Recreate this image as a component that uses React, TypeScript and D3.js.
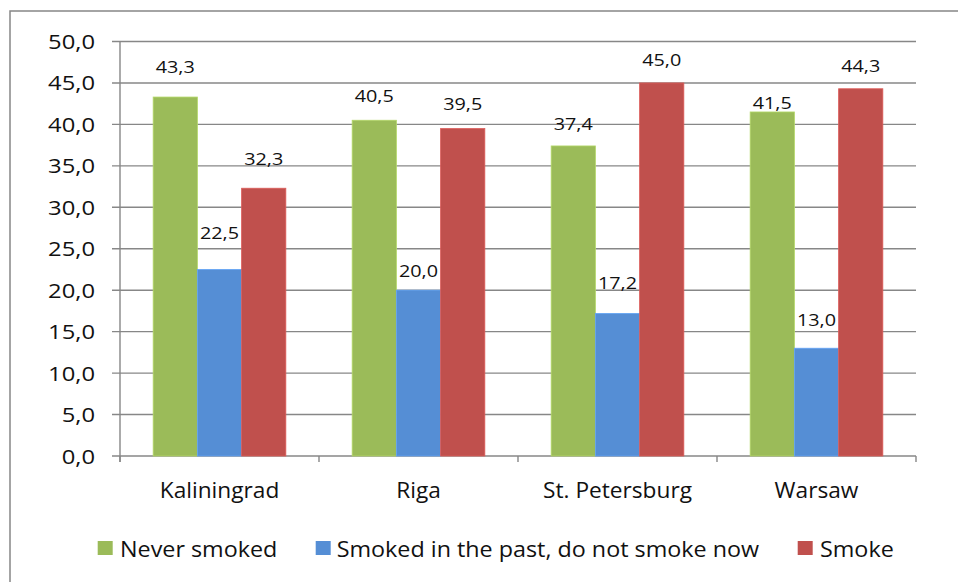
import React from "react";
import * as d3 from "d3";

const categories = ["Kaliningrad", "Riga", "St. Petersburg", "Warsaw"];
const seriesNames = ["Never smoked", "Smoked in the past, do not smoke now", "Smoke"];
const neverSmoked = [43.3, 40.5, 37.4, 41.5];
const smokedInPast = [22.5, 20.0, 17.2, 13.0];
const smoke = [32.3, 39.5, 45.0, 44.3];
const yTicks = [0, 5, 10, 15, 20, 25, 30, 35, 40, 45, 50];
const seriesColors = ["#9BBB59", "#558ED5", "#C0504D"];
// manual label lifts (px above bar top), per series per category, as in the reference
const labelLift = [
  [23.7, 18.5, 16, 3.4],
  [30.5, 13.3, 24, 22.3],
  [23.3, 18.3, 17.3, 16.6],
];

const FONT = "'Open Sans', sans-serif";
const TEXT = "#111";
const GRID = "#878787";

function T({ x, y, size, sx, anchor, children }: any) {
  return (
    <text
      transform={`translate(${x},${y}) scale(${sx},1)`}
      textAnchor={anchor}
      fontFamily={FONT}
      fontSize={size}
      fill={TEXT}
    >
      {children}
    </text>
  );
}

export default function App() {
  const W = 958, H = 582;
  const left = 120, right = 916, top = 41.5, bottom = 456;
  const series = [neverSmoked, smokedInPast, smoke];

  const x0 = d3.scaleBand<string>().domain(categories).range([left, right]).padding(0);
  const x1 = d3
    .scaleBand<number>()
    .domain([0, 1, 2])
    .range([0, x0.bandwidth()])
    .paddingInner(0)
    .paddingOuter(0.75);
  const y = d3.scaleLinear().domain([0, 50]).range([bottom, top]);
  const fmt = (v: number) => v.toFixed(1).replace(".", ",");

  const boundaries = [...categories.map((c) => x0(c) as number), right];

  const legendItems = [
    { sq: 97.7, tx: 120 },
    { sq: 315.7, tx: 336.7 },
    { sq: 797.7, tx: 820 },
  ];

  return (
    <svg width={W} height={H} style={{ position: "absolute", left: 0, top: 0 }}>
      <rect x={0} y={0} width={W} height={H} fill="#fff" />
      <rect x={10} y={11} width={W + 10} height={H + 10} fill="none" stroke={GRID} strokeWidth={1.5} />
      {/* gridlines */}
      {yTicks.map((t) => (
        <line key={"g" + t} x1={left - 8} x2={right} y1={y(t)} y2={y(t)} stroke={GRID} strokeWidth={1.4} />
      ))}
      {/* y axis */}
      <line x1={left} x2={left} y1={top} y2={bottom + 6} stroke={GRID} strokeWidth={1.4} />
      {/* x ticks */}
      {boundaries.map((b, i) => (
        <line key={"xt" + i} x1={b} x2={b} y1={bottom} y2={bottom + 6} stroke={GRID} strokeWidth={1.4} />
      ))}
      {/* bars */}
      {categories.map((c, ci) =>
        series.map((s, si) => {
          const bx = (x0(c) as number) + (x1(si) as number);
          const bw = x1.bandwidth();
          return (
            <rect
              key={c + si}
              x={bx}
              y={y(s[ci])}
              width={bw}
              height={bottom - y(s[ci])}
              fill={seriesColors[si]}
              stroke={d3.color(seriesColors[si])!.brighter(0.4).toString()}
              strokeWidth={0.8}
            />
          );
        })
      )}
      {/* data labels */}
      {categories.map((c, ci) =>
        series.map((s, si) => {
          const bx = (x0(c) as number) + (x1(si) as number) + x1.bandwidth() / 2;
          return (
            <T key={"l" + c + si} x={bx} y={y(s[ci]) - labelLift[si][ci]} size={16.5} sx={1.2} anchor="middle">
              {fmt(s[ci])}
            </T>
          );
        })
      )}
      {/* y tick labels */}
      {yTicks.map((t) => (
        <T key={"yl" + t} x={95} y={y(t) + 7.5} size={20.5} sx={1.16} anchor="end">
          {fmt(t)}
        </T>
      ))}
      {/* category labels */}
      {categories.map((c) => (
        <T key={"cl" + c} x={(x0(c) as number) + x0.bandwidth() / 2} y={498.3} size={21} sx={1.08} anchor="middle">
          {c}
        </T>
      ))}
      {/* legend */}
      {seriesNames.map((n, i) => (
        <g key={"lg" + n}>
          <rect x={legendItems[i].sq} y={541} width={15} height={14} fill={seriesColors[i]} />
          <T x={legendItems[i].tx} y={556.5} size={21.5} sx={1.085} anchor="start">
            {n}
          </T>
        </g>
      ))}
    </svg>
  );
}
